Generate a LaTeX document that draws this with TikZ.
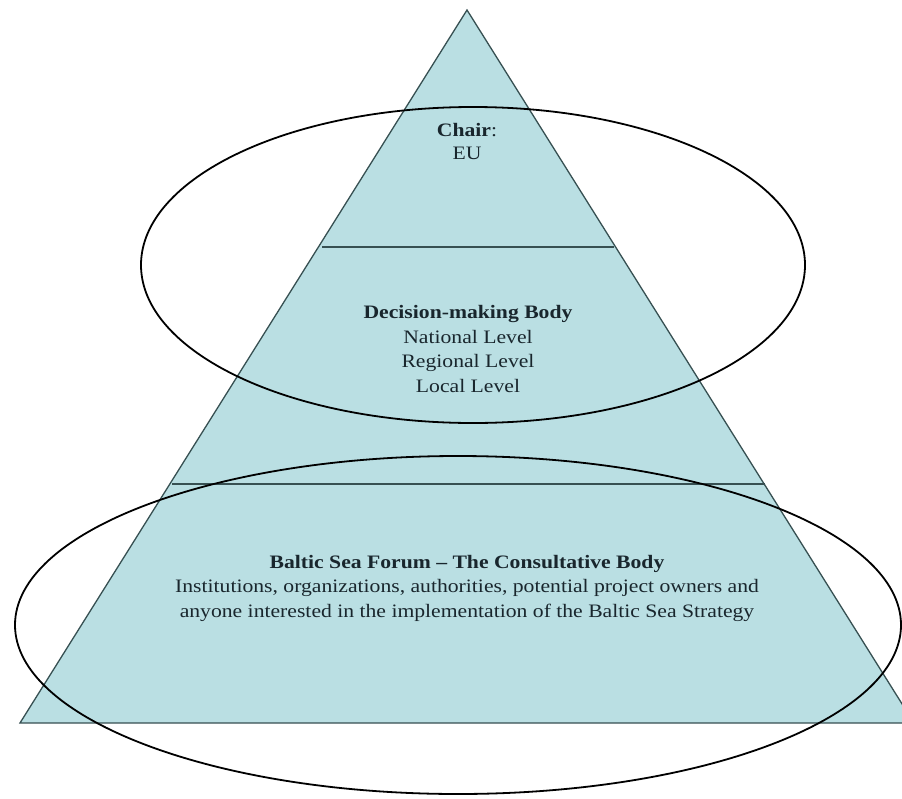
\documentclass[tikz,border=0pt]{standalone}
\usepackage{fontspec}
\setmainfont{Liberation Serif}[FakeStretch=1.14]
\definecolor{pyrfill}{RGB}{186,223,227}
\definecolor{pyredge}{RGB}{55,80,82}
\definecolor{txt}{RGB}{25,38,45}
\begin{document}
\begin{tikzpicture}[x=1pt,y=-1pt,
  edge/.style={draw=pyredge,line width=1.3pt},
  ring/.style={draw=black,line width=1.8pt},
  lbl/.style={text=txt,align=center,inner sep=0pt,font=\fontsize{19}{24.5}\selectfont}]
\useasboundingbox (0,0) rectangle (902,798);
\clip (0,0) rectangle (902,798);
% pyramid
\coordinate (apex) at (467,10);
\coordinate (bl) at (20,723);
\coordinate (br) at (914,723);
\fill[pyrfill] (apex) -- (bl) -- (br) -- cycle;
\draw[edge] (apex) -- (bl) -- (br) -- cycle;
\coordinate (l1) at (322,247);
\coordinate (r1) at (614,247);
\coordinate (l2) at (172,484);
\coordinate (r2) at (765,484);
\draw[edge] (l1) -- (r1);
\draw[edge] (l2) -- (r2);
% ellipses
\draw[ring] (473,265) ellipse [x radius=332, y radius=158];
\draw[ring] (458,625) ellipse [x radius=443, y radius=169];
% texts
\node[lbl,font=\fontsize{19}{23}\selectfont] (chair) at (467,141) {\textbf{Chair}:\\EU};
\node[lbl] (dec) at (468,349) {\textbf{Decision-making Body}\\National Level\\Regional Level\\Local Level};
\node[lbl] (forum) at (467,588) {\textbf{Baltic Sea Forum -- The Consultative Body}\\Institutions, organizations, authorities, potential project owners and\\anyone interested in the implementation of the Baltic Sea Strategy};
\end{tikzpicture}
\end{document}
